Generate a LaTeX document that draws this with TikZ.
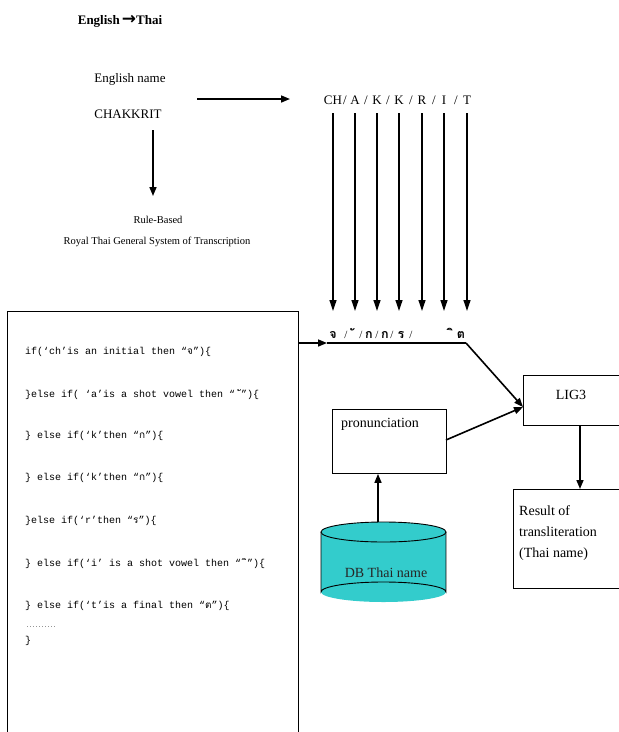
\documentclass[tikz,border=0pt]{standalone}
\usepackage{fontspec}
\setmainfont{Liberation Serif}
\newfontfamily\thaif[Script=Thai]{Loma}
\newfontfamily\codef{Liberation Mono}
\newfontfamily\symf{DejaVu Sans}
\usetikzlibrary{arrows.meta}
\newcommand\tha[1]{{\thaif #1}}
\definecolor{dbcol}{HTML}{33CCCC}
\tikzset{
  arr/.style={line width=1.6pt,-{Triangle[length=9pt,width=7pt]}},
  varr/.style={line width=1.2pt,-{Triangle[length=11pt,width=7pt]}},
  codeline/.style={anchor=west,inner sep=0pt,font=\codef\fontsize{10}{12}\selectfont},
  lbl/.style={inner sep=1pt,font=\fontsize{13}{15}\selectfont},
  seglbl/.style={inner sep=0pt,font=\fontsize{13}{15}\selectfont},
  thlbl/.style={inner sep=0pt,anchor=base,font=\thaif\bfseries\fontsize{12.5}{15}\selectfont},
  boxline/.style={line width=0.9pt},
}
\begin{document}
\begin{tikzpicture}[x=1pt,y=-1pt]
\useasboundingbox[fill=white] (0,0) rectangle (619,732);
% title
\node[inner sep=0pt,font=\bfseries\fontsize{13}{15}\selectfont] (title) at (120,21) {English\,{\symf\fontsize{17}{17}\selectfont →}Thai};
\node[lbl] (ename) at (130,79) {English name};
\node[lbl] (chak) at (128,114) {CHAKKRIT};
\coordinate (hstart) at (197,99);
\coordinate (hend) at (290,99);
\draw[arr] (hstart) -- (hend);
\coordinate (dstart) at (153,130);
\coordinate (dend) at (153,196);
\node[inner sep=1pt,font=\fontsize{10.5}{12}\selectfont] (rule) at (158,220) {Rule-Based};
\node[inner sep=1pt,font=\fontsize{10.5}{12}\selectfont] (rtgs) at (157,242) {Royal Thai General System of Transcription};
\draw[arr] (dstart) -- (dend);
% segmentation
\foreach \s/\x in {CH/333,A/355,K/377,K/399,R/422,I/444,T/467}{
  \node[seglbl] (seg\x) at (\x,100) {\s};
}
\foreach \x in {345,366,388,411,434,456}{
  \node[seglbl] (sl\x) at (\x,100) {/};
}
\foreach \x in {333,355,377,399,422,444,467}{
  \coordinate (s\x) at (\x,113);
  \coordinate (t\x) at (\x,311);
  \draw[varr] (s\x) -- (t\x);
}
% thai row
\node[thlbl] (th1) at (333,338) {จ};
\node[thlbl] (th2) at (353,338) {^^^^00a0ั};
\node[thlbl] (th3) at (369,338) {ก};
\node[thlbl] (th4) at (385,338) {ก};
\node[thlbl] (th5) at (401,338) {ร};
\node[thlbl] (th6) at (452,338) {^^^^00a0ิ};
\node[thlbl] (th7) at (461,338) {ต};
\foreach \x in {346,361,377,392,411}{
  \node[inner sep=0pt,anchor=base,font=\fontsize{11}{13}\selectfont] (tsl\x) at (\x,338) {/};
}
\coordinate (lnL) at (327,343);
\coordinate (lnR) at (466,343);
\draw[line width=1.3pt] (lnL) -- (lnR);
% left code box
\coordinate (bTL) at (7,311);
\coordinate (bTR) at (298,311);
\coordinate (bBL) at (7,740);
\coordinate (bBR) at (298,740);
\coordinate (bOut) at (298,343);
\draw[boxline] (bBL) -- (bTL) -- (bTR) -- (bBR);
\draw[arr] (bOut) -- (lnL);
\node[codeline] (c1) at (25,352) {if(‘ch’is an initial then “\tha{จ}”)\{};
\node[codeline] (c2) at (25,395) {\}else if( ‘a’is a shot vowel then “ \tha{ั}”)\{};
\node[codeline] (c3) at (25,436) {\} else if(‘k’then “\tha{ก}”)\{};
\node[codeline] (c4) at (25,478) {\} else if(‘k’then “\tha{ก}”)\{};
\node[codeline] (c5) at (25,521) {\}else if(‘r’then “\tha{ร}”)\{};
\node[codeline] (c6) at (25,564) {\} else if(‘i’ is a shot vowel then “ \tha{ิ}”)\{};
\node[codeline] (c7) at (25,606) {\} else if(‘t’is a final then “\tha{ต}”)\{};
\node[codeline,font=\codef\fontsize{5}{6}\selectfont] (c8) at (26,627) {..........};
\node[codeline] (c9) at (25,641) {\}};
% LIG3
\node[inner sep=0pt,minimum width=96pt,minimum height=50pt,anchor=north west] (lig) at (523,375) {};
\draw[boxline] (lig.north east) -- (lig.north west) -- (lig.south west) -- (lig.south east);
\node[lbl,font=\fontsize{14}{16}\selectfont] (ligt) at (571,395) {LIG3};
% pronunciation
\node[draw,boxline,inner sep=0pt,minimum width=114pt,minimum height=64pt,anchor=north west] (pron) at (332,409) {};
\node[anchor=north west,inner sep=0pt,font=\fontsize{14}{16}\selectfont] (pront) at (341,418) {pronunciation};
% result
\node[inner sep=0pt,minimum width=106pt,minimum height=99pt,anchor=north west] (res) at (513,489) {};
\draw[boxline] (res.north east) -- (res.north west) -- (res.south west) -- (res.south east);
\node[anchor=north west,inner sep=0pt,align=left,font=\fontsize{14}{21}\selectfont] (rest) at (519,505) {Result of\\transliteration\\(Thai name)};
% DB cylinder
\fill[dbcol] (321,532) rectangle (446,592);
\fill[dbcol] (383.5,592) ellipse [x radius=62.5, y radius=10];
\fill[dbcol] (383.5,532) ellipse [x radius=62.5, y radius=10];
\draw[boxline] (321,532) -- (321,592) arc[start angle=180,end angle=360,x radius=62.5,y radius=10] -- (446,532);
\draw[boxline] (383.5,532) ellipse [x radius=62.5, y radius=10];
\coordinate (dbtop) at (378,522);
\node[inner sep=0pt,font=\fontsize{14}{16}\selectfont,text=black!85] (db) at (386,573) {DB Thai name};
% connectors
\coordinate (ligin) at (523,407);
\coordinate (pronout) at (446,440);
\coordinate (ligdown) at (580,425);
\coordinate (resup) at (580,489);
\draw[arr] (dbtop) -- (pron.south -| dbtop);
\draw[arr] (lnR) -- (ligin);
\draw[arr] (pronout) -- (ligin);
\draw[arr] (ligdown) -- (resup);
\end{tikzpicture}
\end{document}
